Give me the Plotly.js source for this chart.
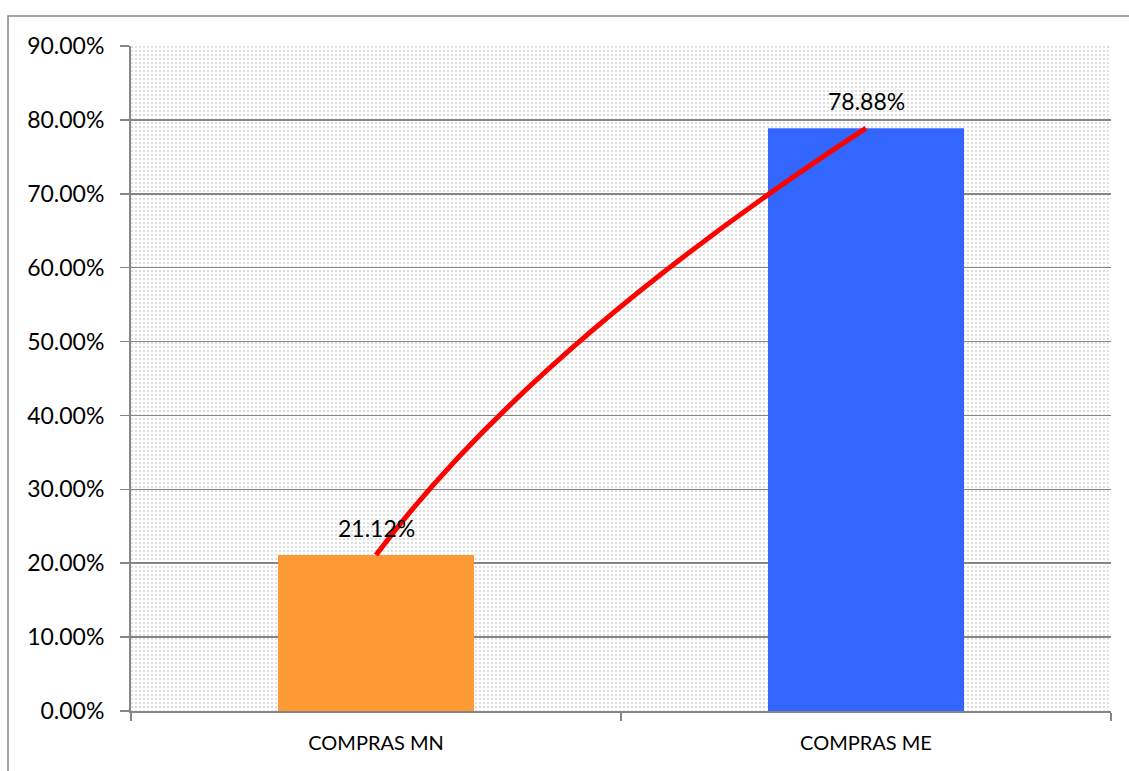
<!DOCTYPE html>
<html>
<head>
<meta charset="utf-8">
<script src="https://cdn.plot.ly/plotly-3.0.1.min.js"></script>
<style>html,body{margin:0;padding:0;background:#fff;}#chart{width:1129px;height:771px;}</style>
</head>
<body>
<div id="chart"></div>
<script>
const categories = ["COMPRAS MN", "COMPRAS ME"];
const values = [21.12, 78.88];
const barColors = ["#FF9933", "#3366FF"];
const labels = ["21.12%", "78.88%"];
const yTickVals = [0, 10, 20, 30, 40, 50, 60, 70, 80, 90];
const yTickText = ["0.00%", "10.00%", "20.00%", "30.00%", "40.00%", "50.00%", "60.00%", "70.00%", "80.00%", "90.00%"];

const bg = "data:image/svg+xml;utf8," + encodeURIComponent(
  "<svg xmlns='http://www.w3.org/2000/svg' width='980' height='665'>" +
  "<defs><pattern id='p' width='4' height='4' patternUnits='userSpaceOnUse'>" +
  "<rect width='4' height='4' fill='#ffffff'/><rect width='2' height='2' fill='#dedede'/></pattern></defs>" +
  "<rect width='100%' height='100%' fill='url(#p)'/></svg>");

const FONT = "Lato, 'Open Sans', sans-serif";

const trace = {
  type: "bar",
  x: categories,
  y: values,
  width: 0.4,
  marker: {color: barColors, line: {width: 0}},
  hoverinfo: "none"
};

const annotations = categories.map((c, i) => ({
  x: c, y: values[i], xref: "x", yref: "y",
  text: labels[i], showarrow: false,
  yanchor: "bottom", yshift: 11,
  font: {family: FONT, size: 23, color: "#000"}
}));

// curve from first bar top to second bar top (quadratic Bezier)
const cx = 0.32;
const cy = values[0] + 0.49 * (values[1] - values[0]);
const curvePath = `M 0,${values[0]} Q ${cx},${cy} 1,${values[1]}`;

const layout = {
  width: 1129, height: 771,
  margin: {l: 131, r: 18, t: 46, b: 60, pad: 0},
  paper_bgcolor: "#ffffff",
  plot_bgcolor: "#ffffff",
  showlegend: false,
  font: {family: FONT, color: "#000"},
  xaxis: {
    type: "category",
    tickson: "boundaries",
    ticks: "outside", ticklen: 8, tickwidth: 2, tickcolor: "#868686",
    showline: true, linecolor: "#868686", linewidth: 2,
    showgrid: false, zeroline: false,
    tickfont: {family: FONT, size: 20, color: "#000"},
    ticklabelstandoff: 13,
    fixedrange: true
  },
  xaxis2: {
    type: "linear", overlaying: "x", anchor: "y",
    range: [-0.5, 1.5], visible: false, fixedrange: true
  },
  yaxis: {
    range: [0, 90],
    tickmode: "array",
    tickvals: yTickVals,
    ticktext: yTickText,
    ticks: "outside", ticklen: 9, tickwidth: 1.5, tickcolor: "#868686",
    showline: true, linecolor: "#868686", linewidth: 2,
    showgrid: true, gridcolor: "#868686", gridwidth: 1.5,
    zeroline: false,
    tickfont: {family: FONT, size: 23, color: "#000"},
    ticklabelstandoff: 11,
    fixedrange: true
  },
  annotations: annotations,
  images: [{
    source: bg, xref: "paper", yref: "paper",
    x: 0, y: 1, sizex: 1, sizey: 1, sizing: "stretch",
    xanchor: "left", yanchor: "top", layer: "below"
  }],
  shapes: [
    {type: "path", xref: "x2", yref: "y", path: curvePath,
     line: {color: "#FF0000", width: 5}, layer: "above"},
    {type: "rect", xref: "paper", yref: "paper",
     x0: -0.1255, x1: 1.05, y0: -0.2, y1: 1.045,
     line: {color: "#868686", width: 1.5}, fillcolor: "rgba(0,0,0,0)", layer: "above"}
  ]
};

Plotly.newPlot("chart", [trace], layout, {displayModeBar: false, staticPlot: true});
</script>
</body>
</html>
